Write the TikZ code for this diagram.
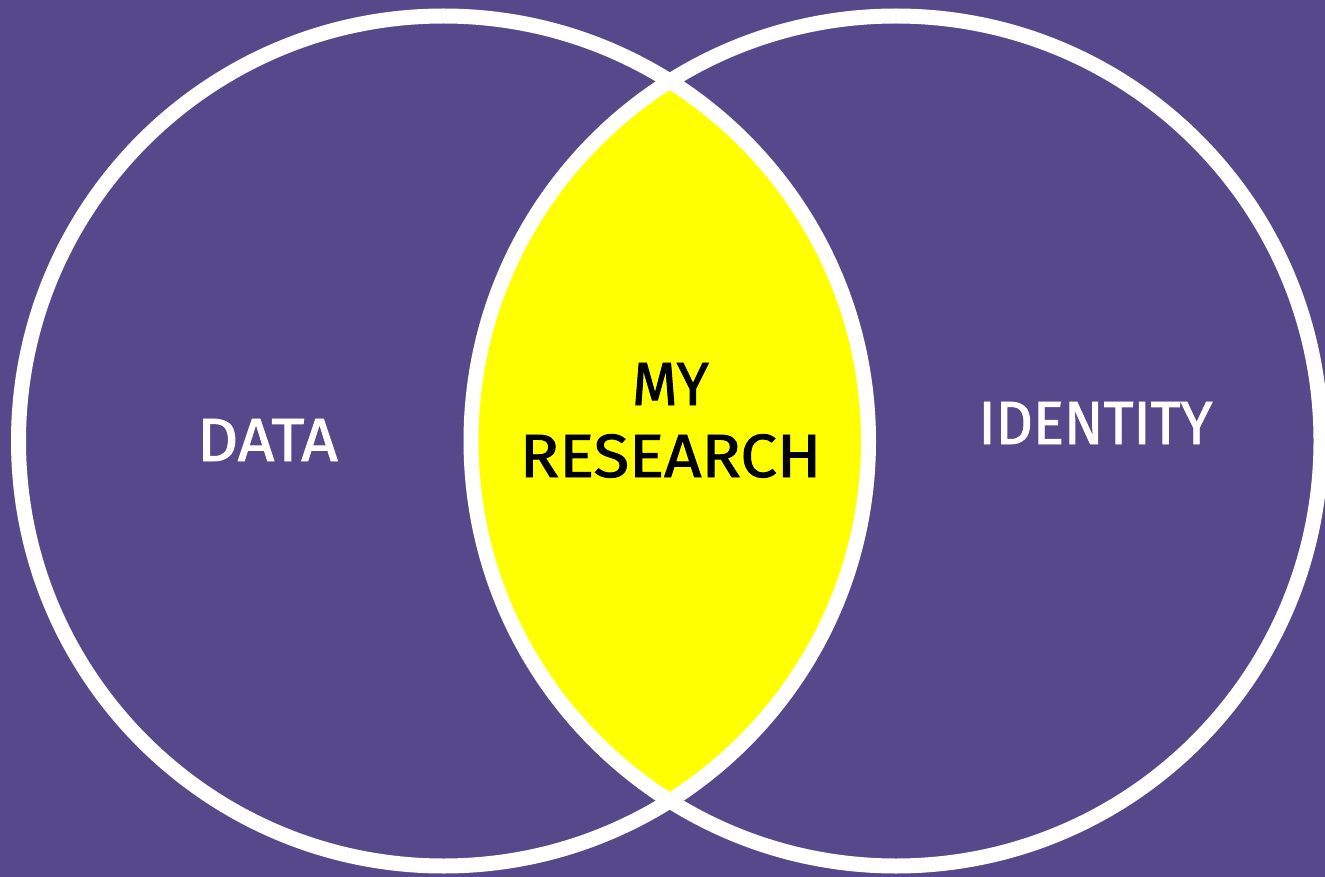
\documentclass[tikz,border=0pt]{standalone}
\usepackage{fontspec}
\usepackage{graphicx}
\setmainfont{Fira Sans}
\newfontfamily\dinfont{Fira Sans}[BoldFont=Fira Sans,BoldFeatures={FakeBold=1.5}]
\definecolor{bgpurple}{HTML}{55488B}
\definecolor{lensyellow}{HTML}{FFFF00}
\begin{document}
\begin{tikzpicture}[x=1pt,y=-1pt,
  ring/.style={draw=white,line width=15pt},
  lbl/.style={font=\dinfont\bfseries\fontsize{61}{72}\selectfont,inner sep=0pt,anchor=base}]
\fill[bgpurple] (0,0) rectangle (1325,877);
\useasboundingbox (0,0) rectangle (1325,877);
\coordinate (cl) at (443.5,441);
\coordinate (cr) at (896,441);
\begin{scope}
  \clip (cl) circle[radius=425];
  \fill[lensyellow] (cr) circle[radius=425];
\end{scope}
\draw[ring] (cl) circle[radius=425];
\draw[ring] (cr) circle[radius=425];
\node[lbl,text=white] (data) at (267.5,461) {\scalebox{1.05}[1]{DATA}};
\node[lbl,text=black,align=center] (research) at (670.5,477) {\scalebox{0.96}[1]{MY}\\\scalebox{1.07}[1]{RESEARCH}};
\node[lbl,text=white] (identity) at (1095.5,444) {\scalebox{0.95}[1]{IDENTITY}};
\end{tikzpicture}
\end{document}
